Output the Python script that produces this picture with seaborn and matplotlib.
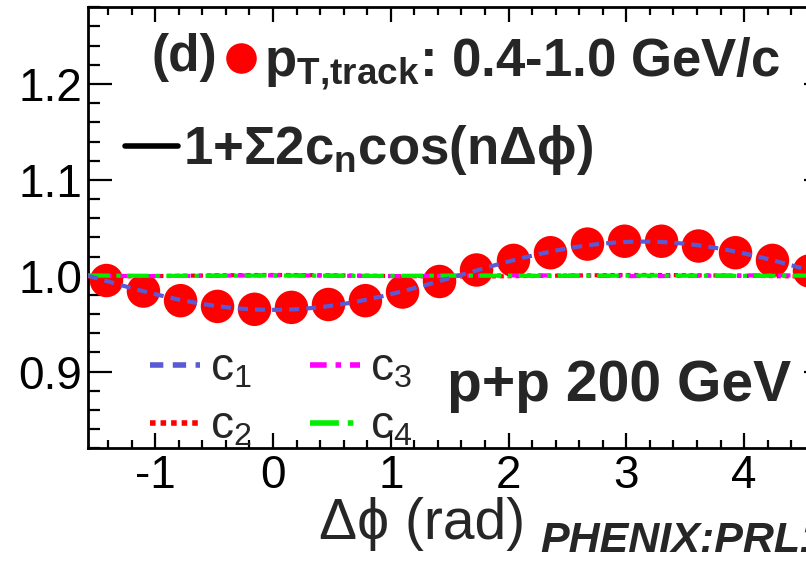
import numpy as np
import pandas as pd
import matplotlib
matplotlib.use("Agg")
import matplotlib.pyplot as plt
from matplotlib.lines import Line2D
import seaborn as sns

# Δφ bin centres (rad) and the measured correlation ratio
dphi = [-1.414, -1.100, -0.785, -0.471, -0.157, 0.157, 0.471, 0.785, 1.100, 1.414,
        1.728, 2.042, 2.356, 2.670, 2.985, 3.299, 3.613, 3.927, 4.241, 4.555]
ratio = [0.995, 0.984, 0.974, 0.968, 0.965, 0.967, 0.970, 0.974, 0.983, 0.994,
         1.006, 1.016, 1.024, 1.033, 1.036, 1.036, 1.031, 1.024, 1.016, 1.005]

# Fourier coefficients of the fit 1 + sum 2 c_n cos(n Δφ)
c_coeffs = [-0.0178, 0.0004, 0.0002, 0.0001]
c_colors = ["#5a5ad6", "#ff0000", "#ff00ff", "#00ee00"]
c_styles = [(0, (2.4, 1.7)), (0, (1.0, 0.9)), (0, (3.0, 1.6, 1.0, 1.6)), (0, (5.2, 1.6, 1.0, 1.6))]
c_labels = ["c$_1$", "c$_2$", "c$_3$", "c$_4$"]

x_ticks = [-1, 0, 1, 2, 3, 4]
y_ticks = [0.9, 1.0, 1.1, 1.2]

sns.set_style("ticks")
plt.rcParams["font.family"] = ["Liberation Sans", "DejaVu Sans"]
plt.rcParams["mathtext.fontset"] = "custom"
plt.rcParams["mathtext.rm"] = "Liberation Sans"
plt.rcParams["mathtext.it"] = "Liberation Sans:italic"
plt.rcParams["mathtext.bf"] = "Liberation Sans:bold"
plt.rcParams["mathtext.fallback"] = "stixsans"
plt.rcParams["axes.unicode_minus"] = False

W, H = 806, 561
fig = plt.figure(figsize=(W / 100, H / 100), dpi=100)
fig.patch.set_facecolor("white")

x0, x1 = 88, 828
y_top, y_bot = 7.3, 448.3
ax = fig.add_axes([x0 / W, (H - y_bot) / H, (x1 - x0) / W, (y_bot - y_top) / H])
ax.set_facecolor("white")

xmin, xmax = -np.pi / 2, 3 * np.pi / 2
grid = np.linspace(xmin, xmax, 500)

points = pd.DataFrame({"dphi": dphi, "ratio": ratio})
sns.scatterplot(data=points, x="dphi", y="ratio", ax=ax, color="#ff0000",
                s=580, edgecolor="none", linewidth=0, zorder=2)

# individual harmonics, c1 drawn last so it stays on top
for n in [1, 2, 3, 0]:
    comp = 1 + 2 * c_coeffs[n] * np.cos((n + 1) * grid)
    sns.lineplot(x=grid, y=comp, ax=ax, color=c_colors[n], lw=3,
                 linestyle=c_styles[n], zorder=3 + (n == 0))

ax.set_xlim(xmin, xmax)
ax.set_ylim(0.82, 1.28)
ax.set_xticks(x_ticks)
ax.set_xticklabels([str(t) for t in x_ticks])
ax.set_yticks(y_ticks)
ax.set_yticklabels([f"{t:.1f}" for t in y_ticks])
ax.xaxis.set_minor_locator(matplotlib.ticker.MultipleLocator(0.2))
ax.yaxis.set_minor_locator(matplotlib.ticker.MultipleLocator(0.02))
ax.tick_params(axis="both", which="both", direction="in", top=True, right=True,
               width=1.6, color="black", labelsize=33, labelcolor="black")
ax.tick_params(axis="x", which="major", length=10.8, pad=4)
ax.tick_params(axis="x", which="minor", length=5.8)
ax.tick_params(axis="y", which="major", length=17.3, pad=4)
ax.tick_params(axis="y", which="minor", length=8.6)
for sp in ax.spines.values():
    sp.set_visible(True)
    sp.set_linewidth(2.0)
    sp.set_color("black")

ax.set_xlabel("Δϕ (rad)", fontsize=41)
ax.set_ylabel("")
ax.xaxis.set_label_coords((422 - x0) / (x1 - x0), -(497 - y_bot) / (y_bot - y_top))

def fx(px):
    return px / W

def fy(py):
    return 1 - py / H

fig.text(fx(152), fy(58), "(d)", fontsize=37, fontweight="bold", va="center", ha="left")

leg1 = ax.legend(handles=[Line2D([], [], ls="none", marker="o", ms=22, color="#ff0000", mec="none")],
                 labels=[r"$\mathbf{p}_{\mathbf{T{,}track}}$: 0.4-1.0 GeV/c"],
                 loc="center left", bbox_to_anchor=(fx(219), fy(64)), bbox_transform=fig.transFigure,
                 frameon=False, prop=dict(weight="bold", size=38), handlelength=0.83,
                 handletextpad=0.02, borderpad=0, borderaxespad=0)
ax.add_artist(leg1)

leg2 = ax.legend(handles=[Line2D([], [], color="black", lw=4)],
                 labels=[r"1+Σ2c$_\mathbf{n}$cos(nΔϕ)"],
                 loc="center left", bbox_to_anchor=(fx(125), fy(150)), bbox_transform=fig.transFigure,
                 frameon=False, prop=dict(weight="bold", size=38), handlelength=1.0,
                 handletextpad=0.1, borderpad=0, borderaxespad=0)
ax.add_artist(leg2)

c_handles = [Line2D([], [], color=c_colors[i], lw=4, linestyle=c_styles[i]) for i in range(4)]
leg3 = ax.legend(handles=c_handles, labels=c_labels, ncol=2,
                 loc="upper left", bbox_to_anchor=(fx(150), fy(347)), bbox_transform=fig.transFigure,
                 frameon=False, prop=dict(size=33), handlelength=1.1, handletextpad=0.22,
                 columnspacing=1.25, labelspacing=0.3, borderpad=0, borderaxespad=0)

fig.text(fx(447), fy(386), "p+p 200 GeV", fontsize=41, fontweight="bold", va="center", ha="left")
fig.text(fx(540), fy(541), "PHENIX:PRL114,192301(2015)", fontsize=31, fontweight="bold",
         style="italic", va="center", ha="left")

fig.savefig("out.png", dpi=100, facecolor="white")
